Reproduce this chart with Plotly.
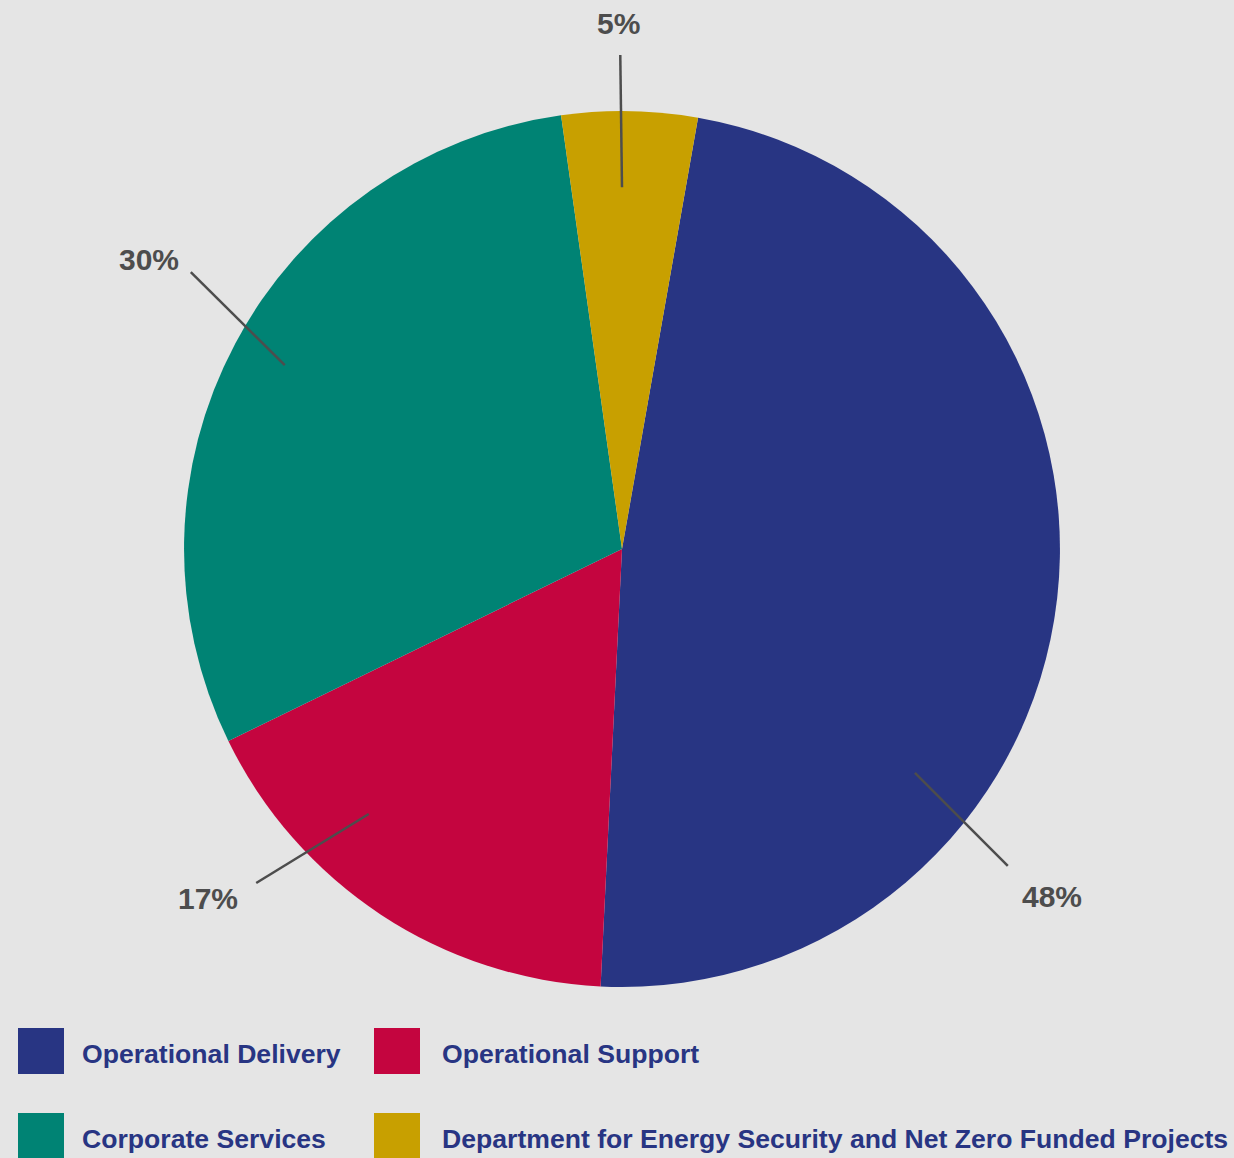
import math
import plotly.graph_objects as go

# Share of staff by business area
categories = [
    "Operational Delivery",
    "Operational Support",
    "Corporate Services",
    "Department for Energy Security and Net Zero Funded Projects",
]
shares = [48, 17, 30, 5]
colors = ["#283583", "#c4053f", "#008374", "#c8a000"]

# Legend grid order: two columns, two rows
legend_order = [0, 1, 2, 3]

W, H = 1234, 1158
BG = "#e5e5e5"
LABEL_COLOR = "#4d4d4d"
LEGEND_TEXT = "#283583"
FONT = "Liberation Sans, Arial, sans-serif"

# Pie placement (paper fractions)
dom_x = [0.0081, 1.0]
dom_y = [0.1477, 0.9041]
rotation = 10  # first slice starts just right of 12 o'clock, clockwise

fig = go.Figure(
    go.Pie(
        labels=categories,
        values=shares,
        sort=False,
        direction="clockwise",
        rotation=rotation,
        marker=dict(colors=colors, line=dict(width=0)),
        textinfo="none",
        hoverinfo="label+percent",
        showlegend=False,
        domain=dict(x=dom_x, y=dom_y),
    )
)

# Pixel geometry of the pie
cx = (dom_x[0] + dom_x[1]) / 2 * W
cy = (1 - (dom_y[0] + dom_y[1]) / 2) * H
R = min((dom_x[1] - dom_x[0]) * W, (dom_y[1] - dom_y[0]) * H) / 2

# Leader-line styling per slice: angular shift from the slice middle (deg)
# and radius (fraction of R) for the inner and outer line ends, plus the
# pixel offset of the label from the outer end.
inner_shift = [31.0, 10.3, 0.6, -1.0]
outer_shift = [33.0, 14.2, 4.7, -1.2]
inner_rad = [0.842, 0.837, 0.877, 0.826]
outer_rad = [1.140, 1.131, 1.170, 1.128]
label_offset = [(44, 31), (-48, 15), (-42, -13), (-2, -31)]


def to_paper(px, py):
    return px / W, 1 - py / H


def point(angle_deg, r):
    a = math.radians(angle_deg)
    return cx + r * math.sin(a), cy - r * math.cos(a)


total = sum(shares)
start = rotation
shapes = []
annotations = []
for i, v in enumerate(shares):
    span = v / total * 360
    mid = start + span / 2
    start += span
    x0, y0 = point(mid + inner_shift[i], inner_rad[i] * R)
    x1, y1 = point(mid + outer_shift[i], outer_rad[i] * R)
    p0 = to_paper(x0, y0)
    p1 = to_paper(x1, y1)
    shapes.append(dict(
        type="line", xref="paper", yref="paper",
        x0=p0[0], y0=p0[1], x1=p1[0], y1=p1[1],
        line=dict(color=LABEL_COLOR, width=2.5),
    ))
    tp = to_paper(x1 + label_offset[i][0], y1 + label_offset[i][1])
    pct = round(v / total * 100)
    annotations.append(dict(
        x=tp[0], y=tp[1], xref="paper", yref="paper",
        text=f"<b>{pct}%</b>", showarrow=False,
        xanchor="center", yanchor="middle",
        font=dict(family=FONT, size=30, color=LABEL_COLOR),
    ))

# Custom legend with large square swatches
sw = 46
col_x = [18, 374]
text_x = [80, 440]
row_y = [1028, 1113]
for k, idx in enumerate(legend_order):
    c, r = k % 2, k // 2
    x0, y0 = col_x[c], row_y[r]
    a = to_paper(x0, y0)
    b = to_paper(x0 + sw, y0 + sw)
    shapes.append(dict(
        type="rect", xref="paper", yref="paper",
        x0=a[0], y0=b[1], x1=b[0], y1=a[1],
        fillcolor=colors[idx], line=dict(width=0),
    ))
    t = to_paper(text_x[c], y0 + sw / 2 + 3)
    annotations.append(dict(
        x=t[0], y=t[1], xref="paper", yref="paper",
        text=f"<b>{categories[idx]}</b>", showarrow=False,
        xanchor="left", yanchor="middle",
        font=dict(family=FONT, size=26.6, color=LEGEND_TEXT),
    ))

fig.update_layout(
    width=W, height=H,
    margin=dict(l=0, r=0, t=0, b=0),
    paper_bgcolor=BG, plot_bgcolor=BG,
    shapes=shapes,
    annotations=annotations,
    showlegend=False,
)

fig.write_html("out.html")
